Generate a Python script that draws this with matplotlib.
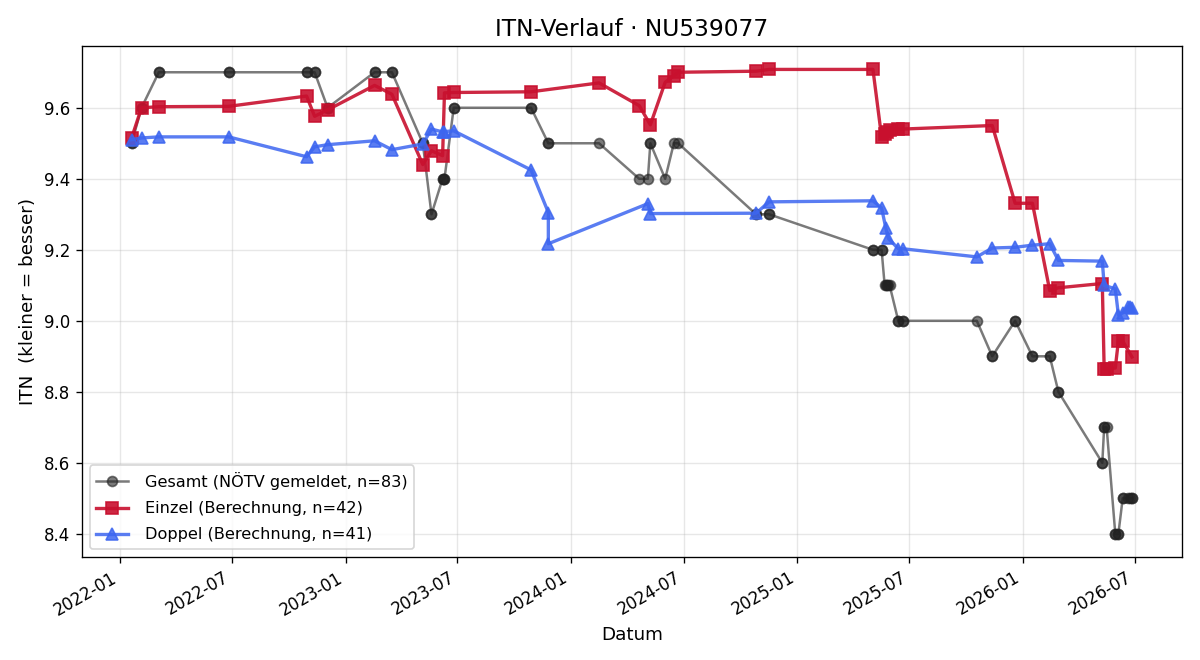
import numpy as np
import pandas as pd
import matplotlib
matplotlib.use("Agg")
import matplotlib.pyplot as plt
import matplotlib.dates as mdates

# Einzel (Berechnung)
einzel_dates = ["2022-01-20", "2022-02-05", "2022-03-05", "2022-06-26", "2022-10-30",
                "2022-11-12", "2022-12-03", "2023-02-17", "2023-03-17", "2023-05-06",
                "2023-05-20", "2023-06-07", "2023-06-10", "2023-06-25", "2023-10-28",
                "2024-02-15", "2024-04-20", "2024-05-08", "2024-06-01", "2024-06-15",
                "2024-06-22", "2024-10-26", "2024-11-16", "2025-05-03", "2025-05-17",
                "2025-05-22", "2025-05-26", "2025-05-30", "2025-06-13", "2025-06-20",
                "2025-11-12", "2025-12-19", "2026-01-16", "2026-02-13", "2026-02-27",
                "2026-05-09", "2026-05-12", "2026-05-16", "2026-05-30", "2026-06-04",
                "2026-06-11", "2026-06-26"]
einzel_itn = [9.515, 9.600, 9.603, 9.604, 9.633, 9.576, 9.594, 9.663, 9.638, 9.440,
              9.479, 9.465, 9.642, 9.643, 9.645, 9.670, 9.606, 9.552, 9.672, 9.690,
              9.700, 9.703, 9.708, 9.708, 9.518, 9.525, 9.533, 9.538, 9.540, 9.540,
              9.550, 9.331, 9.331, 9.085, 9.093, 9.105, 8.865, 8.865, 8.867, 8.943,
              8.943, 8.898]

# Doppel (Berechnung)
doppel_dates = ["2022-01-20", "2022-02-05", "2022-03-05", "2022-06-26", "2022-10-30",
                "2022-11-12", "2022-12-03", "2023-02-17", "2023-03-17", "2023-05-06",
                "2023-05-20", "2023-06-07", "2023-06-10", "2023-06-25", "2023-10-28",
                "2023-11-25", "2023-11-25", "2024-05-04", "2024-05-08", "2024-10-26",
                "2024-11-16", "2025-05-03", "2025-05-17", "2025-05-24", "2025-05-28",
                "2025-06-13", "2025-06-20", "2025-10-18", "2025-11-12", "2025-12-19",
                "2026-01-16", "2026-02-13", "2026-02-27", "2026-05-09", "2026-05-12",
                "2026-05-30", "2026-06-04", "2026-06-11", "2026-06-20", "2026-06-23",
                "2026-06-26"]
doppel_itn = [9.510, 9.515, 9.518, 9.518, 9.462, 9.490, 9.496, 9.507, 9.482, 9.498,
              9.540, 9.532, 9.533, 9.535, 9.425, 9.305, 9.217, 9.330, 9.302, 9.303,
              9.335, 9.338, 9.318, 9.260, 9.232, 9.203, 9.203, 9.180, 9.205, 9.207,
              9.213, 9.217, 9.170, 9.168, 9.100, 9.090, 9.017, 9.022, 9.040, 9.040,
              9.037]

# Gesamt (NÖTV gemeldet) - Datum, ITN, Anzahl Meldungen am Datum
gesamt_dates = ["2022-01-20", "2022-02-05", "2022-03-05", "2022-06-26", "2022-10-30",
                "2022-11-12", "2022-12-03", "2023-02-17", "2023-03-17", "2023-05-06",
                "2023-05-20", "2023-06-07", "2023-06-10", "2023-06-25", "2023-10-28",
                "2023-11-25", "2024-02-15", "2024-04-20", "2024-05-04", "2024-05-08",
                "2024-06-01", "2024-06-15", "2024-06-22", "2024-10-26", "2024-11-16",
                "2025-05-03", "2025-05-17", "2025-05-22", "2025-05-24", "2025-05-26",
                "2025-05-28", "2025-05-30", "2025-06-13", "2025-06-20", "2025-10-18",
                "2025-11-12", "2025-12-19", "2026-01-16", "2026-02-13", "2026-02-27",
                "2026-05-09", "2026-05-12", "2026-05-16", "2026-05-30", "2026-06-04",
                "2026-06-11", "2026-06-20", "2026-06-23", "2026-06-26"]
gesamt_itn = [9.5, 9.6, 9.7, 9.7, 9.7, 9.7, 9.6, 9.7, 9.7, 9.5,
              9.3, 9.4, 9.4, 9.6, 9.6, 9.5, 9.5, 9.4, 9.4, 9.5,
              9.4, 9.5, 9.5, 9.3, 9.3, 9.2, 9.2, 9.1, 9.1, 9.1,
              9.1, 9.1, 9.0, 9.0, 9.0, 8.9, 9.0, 8.9, 8.9, 8.8,
              8.6, 8.7, 8.7, 8.4, 8.4, 8.5, 8.5, 8.5, 8.5]
gesamt_count = [2, 2, 2, 2, 2, 2, 2, 2, 2, 2,
                2, 2, 2, 2, 2, 2, 1, 1, 1, 2,
                1, 1, 1, 2, 2, 2, 2, 1, 1, 1,
                1, 1, 2, 2, 1, 2, 2, 2, 2, 2,
                2, 2, 1, 2, 2, 2, 1, 1, 2]

g_dates = pd.to_datetime(np.repeat(gesamt_dates, gesamt_count))
g_itn = np.repeat(gesamt_itn, gesamt_count)
e_dates = pd.to_datetime(einzel_dates)
d_dates = pd.to_datetime(doppel_dates)

fig, ax = plt.subplots(figsize=(10, 5.5), dpi=120)

ax.plot(g_dates, g_itn, marker="o", color="#222222", alpha=0.6, linewidth=1.5,
        markersize=6, label=f"Gesamt (NÖTV gemeldet, n={len(g_itn)})")
ax.plot(e_dates, einzel_itn, marker="s", color="#C8102E", alpha=0.9, linewidth=2,
        markersize=7, label=f"Einzel (Berechnung, n={len(einzel_itn)})")
ax.plot(d_dates, doppel_itn, marker="^", color="#3D66F0", alpha=0.85, linewidth=2,
        markersize=7, label=f"Doppel (Berechnung, n={len(doppel_itn)})")

ax.set_title("ITN-Verlauf · NU539077", fontsize=14)
ax.set_xlabel("Datum", fontsize=11)
ax.set_ylabel("ITN  (kleiner = besser)", fontsize=11)
ax.tick_params(labelsize=10)

ax.xaxis.set_major_locator(mdates.MonthLocator(bymonth=[1, 7]))
ax.xaxis.set_major_formatter(mdates.DateFormatter("%Y-%m"))
ax.grid(True, alpha=0.3)
ax.legend(loc="lower left", fontsize=9.7, labelspacing=0.7, handletextpad=1.0)

fig.autofmt_xdate()
fig.subplots_adjust(left=0.068, right=0.985, top=0.93, bottom=0.156)
fig.savefig("out.png", dpi=120)
